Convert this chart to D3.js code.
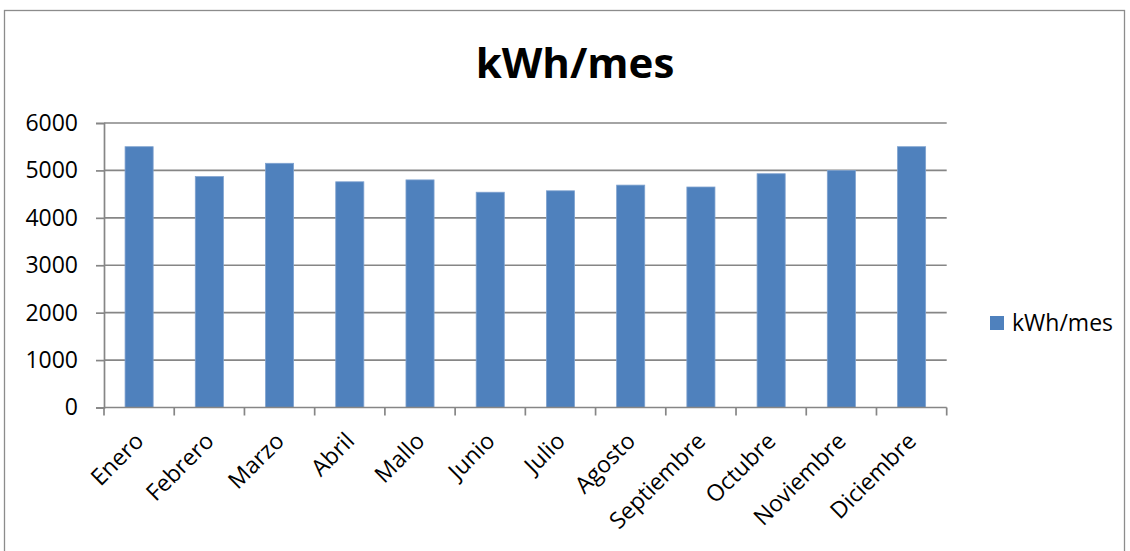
<!DOCTYPE html>
<html>
<head>
<meta charset="utf-8">
<script src="https://cdn.jsdelivr.net/npm/d3@7"></script>
<style>
  html, body { margin: 0; padding: 0; background: #fff; }
  svg { display: block; font-family: "Open Sans", sans-serif; }
</style>
</head>
<body>
<div id="chart"></div>
<script>
// Monthly energy consumption
const months = ["Enero", "Febrero", "Marzo", "Abril", "Mallo", "Junio",
                "Julio", "Agosto", "Septiembre", "Octubre", "Noviembre", "Diciembre"];
const kwh = [5500, 4870, 5150, 4760, 4800, 4540, 4570, 4690, 4650, 4930, 5000, 5500];
const yTicks = [0, 1000, 2000, 3000, 4000, 5000, 6000];
const seriesName = "kWh/mes";
const chartTitle = "kWh/mes";

const W = 1130, H = 551;
const plot = { left: 104, right: 946.7, top: 123, bottom: 407.5 };

const svg = d3.select("#chart").append("svg")
  .attr("width", W).attr("height", H);

// chart area frame
svg.append("rect")
  .attr("x", 4.5).attr("y", 10.5)
  .attr("width", 1120).attr("height", 580)
  .attr("fill", "#fff").attr("stroke", "#8c8c8c").attr("stroke-width", 1.3);

const x = d3.scaleBand().domain(months)
  .range([plot.left, plot.right]).paddingInner(0.6).paddingOuter(0.3);
const y = d3.scaleLinear().domain([0, 6000]).range([plot.bottom, plot.top]);

// horizontal gridlines
svg.append("g").selectAll("line").data(yTicks.filter(d => d > 0)).join("line")
  .attr("x1", plot.left).attr("x2", plot.right)
  .attr("y1", d => y(d)).attr("y2", d => y(d))
  .attr("stroke", "#868686").attr("stroke-width", 1.7);

// bars
svg.append("g").selectAll("rect").data(months).join("rect")
  .attr("x", d => x(d))
  .attr("width", x.bandwidth())
  .attr("y", (d, i) => y(kwh[i]))
  .attr("height", (d, i) => y(0) - y(kwh[i]))
  .attr("fill", "#4f81bd")
  .attr("stroke", "#7fa2cf").attr("stroke-width", 0.8);

// y axis
const yAxis = d3.axisLeft(y).tickValues(yTicks).tickSize(8).tickPadding(18)
  .tickFormat(d3.format("d"));
const gy = svg.append("g").attr("transform", `translate(${plot.left},0)`).call(yAxis);
gy.select(".domain").attr("stroke", "#868686").attr("stroke-width", 1.7);
gy.selectAll(".tick line").attr("stroke", "#868686").attr("stroke-width", 1.7);
gy.selectAll(".tick text").attr("font-size", 23).attr("fill", "#000")
  .attr("font-family", "'Open Sans', sans-serif");

// x axis with ticks at category boundaries
const boundaries = d3.range(months.length + 1).map(i => plot.left + i * (plot.right - plot.left) / months.length);
const gx = svg.append("g");
gx.append("line")
  .attr("x1", plot.left).attr("x2", plot.right)
  .attr("y1", plot.bottom).attr("y2", plot.bottom)
  .attr("stroke", "#868686").attr("stroke-width", 1.7);
gx.selectAll("line.tk").data(boundaries).join("line").attr("class", "tk")
  .attr("x1", d => d).attr("x2", d => d)
  .attr("y1", plot.bottom).attr("y2", plot.bottom + 8)
  .attr("stroke", "#868686").attr("stroke-width", 1.7);

gx.selectAll("text").data(months).join("text")
  .attr("transform", d => `translate(${x(d) + x.bandwidth() / 2 + 6},${plot.bottom + 35}) rotate(-45)`)
  .attr("text-anchor", "end")
  .attr("font-size", 23)
  .attr("fill", "#000")
  .text(d => d);

// title
svg.append("text")
  .attr("x", 575).attr("y", 78)
  .attr("text-anchor", "middle")
  .attr("font-size", 42).attr("font-weight", "bold")
  .attr("fill", "#000")
  .text(chartTitle);

// legend
const lg = svg.append("g").attr("transform", "translate(990,316)");
lg.append("rect").attr("width", 14).attr("height", 14).attr("fill", "#4f81bd");
lg.append("text").attr("x", 22).attr("y", 15)
  .attr("font-size", 23).attr("fill", "#000").text(seriesName);
</script>
</body>
</html>
